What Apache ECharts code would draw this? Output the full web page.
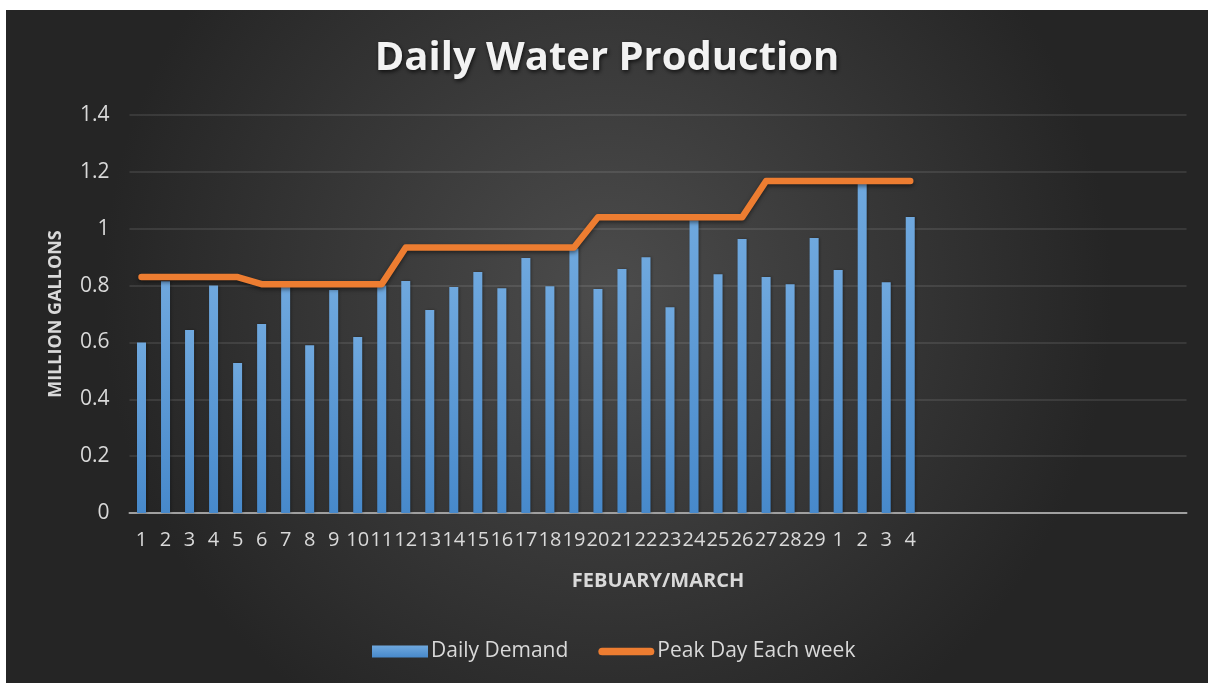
<!DOCTYPE html>
<html>
<head>
<meta charset="utf-8">
<script src="https://cdn.jsdelivr.net/npm/echarts@6/dist/echarts.min.js"></script>
<style>
  html, body { margin: 0; padding: 0; background: #ffffff; }
  #view { position: absolute; left: 6px; top: 10px; width: 1202px; height: 673px; }
</style>
</head>
<body>
<div id="view"></div>
<script>
var myCharts = echarts.init(document.getElementById("view"));

/* 日期 (2月 + 3月), 后面留空位 */
var days = ['1','2','3','4','5','6','7','8','9','10','11','12','13','14','15','16','17','18','19','20',
            '21','22','23','24','25','26','27','28','29','1','2','3','4',
            '','','','','','','','','','',''];

/* 每日需求 */
var dailyDemand = [0.60, 0.815, 0.644, 0.80, 0.528, 0.665, 0.80, 0.59, 0.784, 0.619, 0.80,
                   0.816, 0.714, 0.795, 0.848, 0.791, 0.897, 0.798, 0.93, 0.788, 0.858, 0.90,
                   0.724, 1.03, 0.84, 0.964, 0.83, 0.805, 0.967, 0.855, 1.16, 0.812, 1.041];

/* 每周峰值 */
var peakWeek = [0.83, 0.83, 0.83, 0.83, 0.83,
                0.805, 0.805, 0.805, 0.805, 0.805, 0.805,
                0.934, 0.934, 0.934, 0.934, 0.934, 0.934, 0.934, 0.934,
                1.04, 1.04, 1.04, 1.04, 1.04, 1.04, 1.04,
                1.168, 1.168, 1.168, 1.168, 1.168, 1.168, 1.168];

var yTicks = [0, 1.4, 0.2];   // min, max, interval

var txt = '#d9d9d9';
var font = 'Open Sans';

option = {
    backgroundColor: new echarts.graphic.RadialGradient(0.5, 0.42, 0.75, [
        { offset: 0, color: '#4c4c4c' },
        { offset: 1, color: '#252525' }
    ]),
    title: {
        text: 'Daily Water Production',
        left: 'center',
        top: 24,
        textStyle: {
            color: '#f2f2f2',
            fontFamily: font,
            fontWeight: 'bold',
            fontSize: 40,
            textShadowColor: 'rgba(0,0,0,0.7)',
            textShadowBlur: 4,
            textShadowOffsetX: 1,
            textShadowOffsetY: 2
        }
    },
    legend: {
        left: 361,
        top: 626,
        itemWidth: 56,
        itemHeight: 12,
        itemGap: 30,
        textStyle: { color: txt, fontFamily: font, fontSize: 21, padding: [0, 0, 0, -2] },
        data: [
            { name: 'Daily Demand', icon: 'rect' },
            { name: 'Peak Day Each week', icon: 'path://M4,0 H54 A4,4 0 0 1 54,8 H4 A4,4 0 0 1 4,0 Z' }
        ]
    },
    grid: {
        left: 123.5,
        right: 21.5,
        top: 105,
        bottom: 170
    },
    /* X 轴 */
    xAxis: [{
        type: 'category',
        data: days,
        name: 'FEBUARY/MARCH',
        nameLocation: 'middle',
        nameGap: 58,
        nameTextStyle: { color: txt, fontFamily: font, fontWeight: 'bold', fontSize: 20 },
        axisLine: { lineStyle: { color: '#a0a0a0', width: 2 } },
        axisTick: { show: false },
        axisLabel: { color: txt, fontFamily: font, fontSize: 20, interval: 0, margin: 17 }
    }],
    /* Y 轴 */
    yAxis: [{
        type: 'value',
        min: yTicks[0],
        max: yTicks[1],
        interval: yTicks[2],
        name: 'MILLION GALLONS',
        nameLocation: 'middle',
        nameGap: 65,
        nameTextStyle: { color: txt, fontFamily: font, fontWeight: 'bold', fontSize: 18 },
        axisLine: { show: false },
        axisTick: { show: false },
        axisLabel: { color: txt, fontFamily: font, fontSize: 21, margin: 20 },
        splitLine: { lineStyle: { color: 'rgba(255,255,255,0.13)', width: 1.5 } }
    }],
    series: [
    {
        name: 'Daily Demand',
        type: 'bar',
        barWidth: 9,
        data: dailyDemand,
        itemStyle: {
            color: new echarts.graphic.LinearGradient(0, 0, 0, 1, [
                { offset: 0, color: '#6fa8de' },
                { offset: 1, color: '#4789cb' }
            ]),
            shadowColor: 'rgba(0,0,0,0.35)',
            shadowBlur: 3,
            shadowOffsetX: 1
        }
    },
    {
        name: 'Peak Day Each week',
        type: 'line',
        data: peakWeek,
        symbol: 'none',
        z: 5,
        lineStyle: {
            color: '#ed7d31',
            width: 6.5,
            cap: 'round',
            join: 'round',
            shadowColor: 'rgba(0,0,0,0.5)',
            shadowBlur: 4,
            shadowOffsetY: 2
        },
        itemStyle: { color: '#ed7d31' }
    }]
};

myCharts.setOption(option);
</script>
</body>
</html>
